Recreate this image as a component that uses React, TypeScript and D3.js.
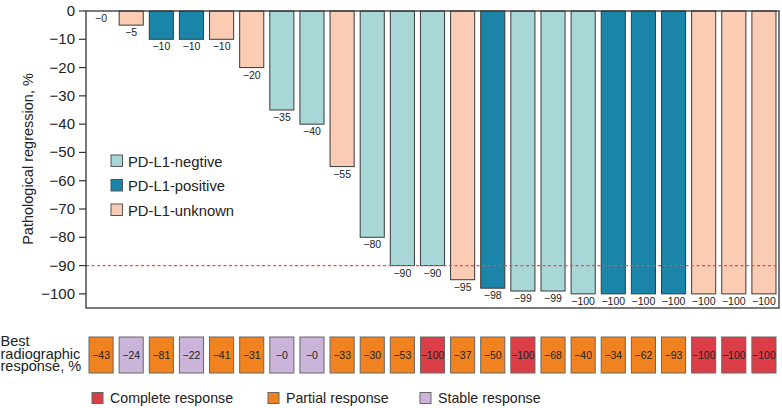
import React from "react";
import * as d3 from "d3";

const patients = d3.range(1, 24).map((i) => `P${i}`);
const pathValues = [0, -5, -10, -10, -10, -20, -35, -40, -55, -80, -90, -90, -95, -98, -99, -99, -100, -100, -100, -100, -100, -100, -100];
const pdl1Groups = ["neg", "unk", "pos", "pos", "unk", "unk", "neg", "neg", "unk", "neg", "neg", "neg", "unk", "pos", "neg", "neg", "neg", "pos", "pos", "pos", "unk", "unk", "unk"];
const radioValues = [-43, -24, -81, -22, -41, -31, 0, 0, -33, -30, -53, -100, -37, -50, -100, -68, -40, -34, -62, -93, -100, -100, -100];
const radioGroups = ["P", "S", "P", "S", "P", "P", "S", "S", "P", "P", "P", "C", "P", "P", "C", "P", "P", "P", "P", "P", "C", "C", "C"];
const yTicks = [0, -10, -20, -30, -40, -50, -60, -70, -80, -90, -100];
const pdl1Legend = [
  { key: "neg", label: "PD-L1-negtive" },
  { key: "pos", label: "PD-L1-positive" },
  { key: "unk", label: "PD-L1-unknown" },
];
const radioLegend = [
  { key: "C", label: "Complete response" },
  { key: "P", label: "Partial response" },
  { key: "S", label: "Stable response" },
];
const rowLabel = ["Best", "radiographic", "response, %"];
const threshold = -90;

const pdl1Color: Record<string, string> = { neg: "#a9d6d7", pos: "#1a84a9", unk: "#f9ccb3" };
const radioColor: Record<string, string> = { C: "#dc3e48", P: "#f0831f", S: "#cab4da" };

const fmt = (v: number) => "\u2212" + Math.abs(v);
const FONT = "'Liberation Sans', Arial, Helvetica, sans-serif";

export default function App() {
  const W = 782, H = 408;
  const left = 86, right = 779, top = 11, bottom = 308;
  const x = d3.scaleBand<string>().domain(patients).range([left, right]).paddingInner(0.2).paddingOuter(0.1);
  const y = d3.scaleLinear().domain([-105, 0]).range([bottom, top]);
  const boxTop = 337, boxH = 36;
  const legendX = [92, 268, 420];

  return (
    <svg width={W} height={H} style={{ position: "absolute", left: 0, top: 0 }} fontFamily={FONT}>
      <rect width={W} height={H} fill="#fff" />
      {/* bars */}
      {patients.map((p, i) =>
        pathValues[i] !== 0 ? (
          <rect key={p} x={x(p)} y={y(0)} width={x.bandwidth()} height={y(pathValues[i]) - y(0)}
            fill={pdl1Color[pdl1Groups[i]]} stroke="#3a3a3a" strokeWidth={1} />
        ) : null
      )}
      {patients.map((p, i) => (
        <text key={p} x={x(p)! + x.bandwidth() / 2} y={y(pathValues[i]) + 11} textAnchor="middle" fontSize={10.5} fill="#222">
          {fmt(pathValues[i])}
        </text>
      ))}
      {/* threshold */}
      <line x1={left} x2={right} y1={y(threshold)} y2={y(threshold)} stroke="#ee4b4b" strokeWidth={1.3} strokeDasharray="3,2.5" />
      {/* frame */}
      <rect x={left} y={top} width={right - left} height={bottom - top} fill="none" stroke="#333" strokeWidth={1.3} />
      {/* y axis */}
      {yTicks.map((t) => (
        <g key={t}>
          <line x1={left - 7} x2={left} y1={y(t)} y2={y(t)} stroke="#333" strokeWidth={1.2} />
          <text x={left - 11} y={y(t) + 5} textAnchor="end" fontSize={15} fill="#222">
            {t === 0 ? "0" : fmt(t)}
          </text>
        </g>
      ))}
      <text transform={`translate(33,159) rotate(-90)`} textAnchor="middle" fontSize={14.5} fill="#222">
        Pathological regression, %
      </text>
      {/* pd-l1 legend */}
      {pdl1Legend.map((d, i) => (
        <g key={d.key} transform={`translate(111,${161 + i * 24.5})`}>
          <rect x={0} y={-6} width={11.5} height={11.5} fill={pdl1Color[d.key]} stroke="#555" strokeWidth={1} />
          <text x={17} y={5.5} fontSize={14.8} fill="#222">{d.label}</text>
        </g>
      ))}
      {/* radiographic row */}
      {rowLabel.map((s, i) => (
        <text key={s} x={0.5} y={346 + i * 12.6} fontSize={14.5} fill="#222">{s}</text>
      ))}
      {patients.map((p, i) => (
        <g key={p}>
          <rect x={x(p)} y={boxTop} width={x.bandwidth()} height={boxH} fill={radioColor[radioGroups[i]]} stroke="#666" strokeWidth={1} />
          <text x={x(p)! + x.bandwidth() / 2} y={boxTop + boxH / 2 + 4} textAnchor="middle" fontSize={10.5} fill="#222">
            {fmt(radioValues[i])}
          </text>
        </g>
      ))}
      {/* radiographic legend */}
      {radioLegend.map((d, i) => (
        <g key={d.key} transform={`translate(${legendX[i]},398)`}>
          <rect x={0} y={-5.5} width={11} height={11} fill={radioColor[d.key]} stroke="#666" strokeWidth={1} />
          <text x={18} y={5} fontSize={14.2} fill="#222">{d.label}</text>
        </g>
      ))}
    </svg>
  );
}
